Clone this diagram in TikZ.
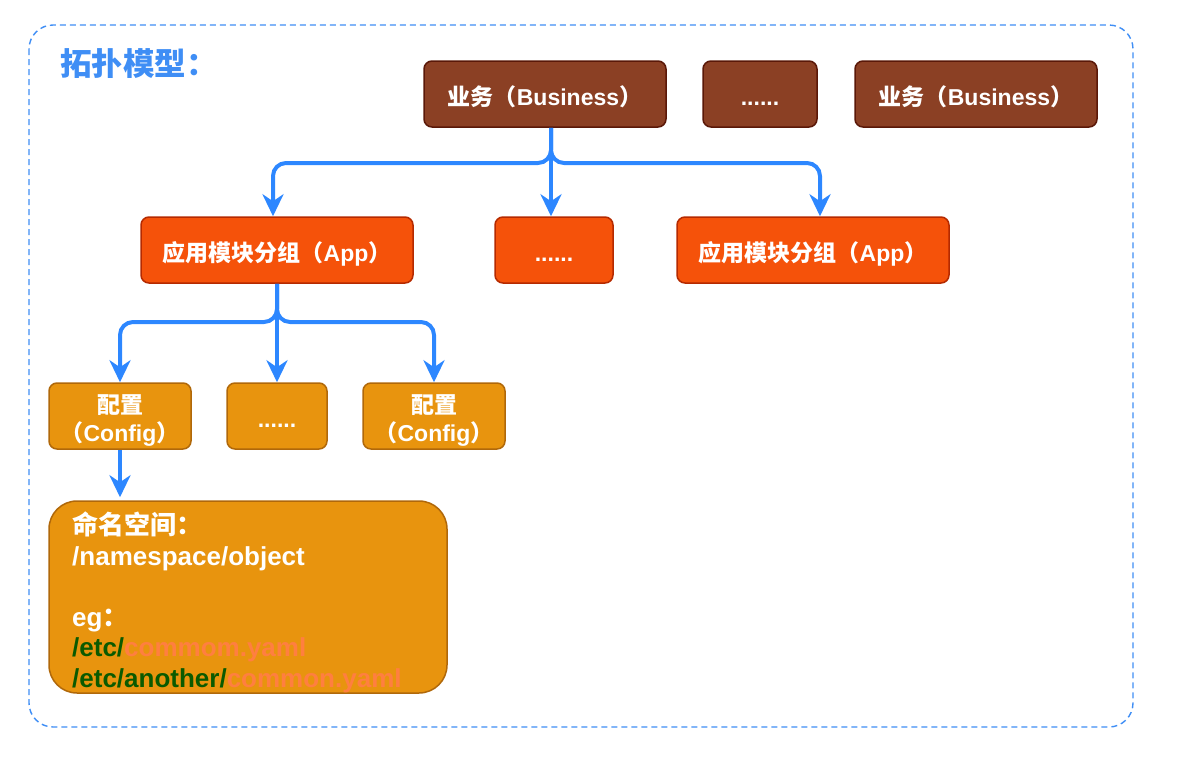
\documentclass[tikz,border=0pt]{standalone}
\usepackage{fontspec}
\setmainfont{Liberation Sans}
\newfontfamily\zhfont{Noto Sans CJK SC}
\usetikzlibrary{arrows.meta}
\newcommand\zh[1]{{\zhfont #1}}
\definecolor{edgeblue}{HTML}{2D87FF}
\definecolor{frameblue}{HTML}{3F8EF5}
\definecolor{bizfill}{HTML}{8B4024}
\definecolor{bizline}{HTML}{5A1808}
\definecolor{appfill}{HTML}{F5520A}
\definecolor{appline}{HTML}{B52A00}
\definecolor{cfgfill}{HTML}{E8940E}
\definecolor{cfgline}{HTML}{B0680A}
\definecolor{pathgreen}{HTML}{0A5A00}
\definecolor{fileorange}{HTML}{FF7F40}
\tikzset{
  boxbase/.style={rounded corners=8pt, line width=1.5pt, text=white,
    font=\fontsize{23}{28}\selectfont\bfseries, align=center, inner sep=0pt,
    minimum height=66pt, text height=22pt, text depth=0pt},
  bizbox/.style={boxbase, fill=bizfill, draw=bizline},
  appbox/.style={boxbase, fill=appfill, draw=appline},
  cfgbox/.style={boxbase, fill=cfgfill, draw=cfgline},
  cfgtext/.style={text=white, font=\fontsize{23}{28}\selectfont\bfseries,
    align=center, inner sep=0pt},
  nsbox/.style={rounded corners=28pt, line width=1.5pt, fill=cfgfill, draw=cfgline,
    minimum width=398pt, minimum height=192pt, inner sep=0pt},
  nstext/.style={text=white, font=\fontsize{26}{30.5}\selectfont\bfseries,
    align=left, inner sep=0pt, anchor=north west},
  edge/.style={draw=edgeblue, line width=4pt, rounded corners=13pt,
    -{Stealth[length=22pt, width=21pt, inset=7pt]}},
  frame/.style={draw=frameblue, line width=1.4pt, dash pattern=on 6pt off 4pt,
    rounded corners=24pt}
}
\begin{document}
\begin{tikzpicture}[x=1pt,y=-1pt]
\useasboundingbox (0,0) rectangle (1184,764);
\draw[frame] (29,25) rectangle (1133,727);
\node[anchor=west, text=frameblue, font=\fontsize{31.5}{36}\selectfont\bfseries, inner sep=0pt] (title) at (60,64) {\zh{拓扑模型：}};

% Business row
\node[bizbox, minimum width=242pt] (b1) at (545,94) {\zh{业务（}Business\zh{）}};
\node[bizbox, minimum width=114pt] (b2) at (760,94) {......};
\node[bizbox, minimum width=242pt] (b3) at (976,94) {\zh{业务（}Business\zh{）}};

% App row
\node[appbox, minimum width=272pt] (a1) at (277,250) {\zh{应用模块分组（}App\zh{）}};
\node[appbox, minimum width=118pt] (a2) at (554,250) {......};
\node[appbox, minimum width=272pt] (a3) at (813,250) {\zh{应用模块分组（}App\zh{）}};

% Config row
\node[cfgbox, minimum width=142pt] (c1) at (120,416) {};
\node[cfgtext] (c1t) at ([yshift=-4pt]c1.center) {\zh{配置}\\\zh{（}Config\zh{）}};
\node[cfgbox, minimum width=100pt] (c2) at (277,416) {......};
\node[cfgbox, minimum width=142pt] (c3) at (434,416) {};
\node[cfgtext] (c3t) at ([yshift=-4pt]c3.center) {\zh{配置}\\\zh{（}Config\zh{）}};

% Namespace box
\node[nsbox] (ns) at (248,597) {};
\node[nstext] (nst) at (72,512) {\zh{命名空间：}\\
/namespace/object\\
\mbox{}\\
eg\zh{：}\\
\textcolor{pathgreen}{/etc/}\textcolor{fileorange}{commom.yaml}\\
\textcolor{pathgreen}{/etc/another/}\textcolor{fileorange}{common.yaml}};

% connectors
\coordinate (j1) at (551,163);
\coordinate (j2) at (277,322);
\draw[edge] ([xshift=6pt]b1.south) -- (j1) -| ([xshift=-4pt]a1.north);
\draw[edge] ([xshift=6pt]b1.south) -- ([xshift=6pt]b1.south |- a2.north);
\draw[edge] ([xshift=6pt]b1.south) -- (j1) -| ([xshift=7pt]a3.north);

\draw[edge] (a1.south) -- (j2) -| (c1.north);
\draw[edge] (a1.south) -- (c2.north);
\draw[edge] (a1.south) -- (j2) -| (c3.north);

\draw[edge] (c1.south) -- ([yshift=3pt]c1.south |- ns.north);
\end{tikzpicture}
\end{document}
